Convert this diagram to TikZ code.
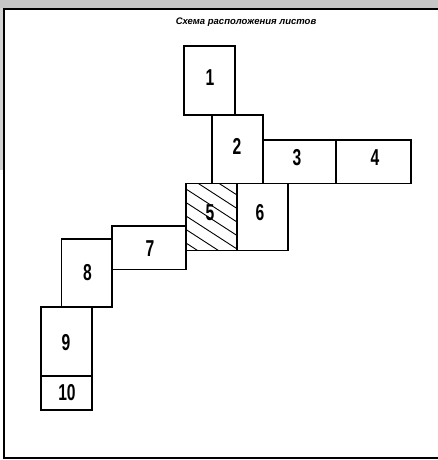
\documentclass[tikz,border=0pt]{standalone}
\usepackage{fontspec}
\setmainfont{Liberation Sans}
\newfontfamily\titlefont{Liberation Sans}
\begin{document}
\begin{tikzpicture}[x=1pt,y=-1pt,
  sheet/.style={draw=black,line width=1.3pt},
  num/.style={font=\bfseries\fontsize{23}{23}\selectfont,xscale=0.68,inner sep=0pt},
  hatchline/.style={line width=0.9pt}]
\useasboundingbox (0,0) rectangle (438,460);
% scan noise
\fill[gray!45] (0,0) rectangle (438,8);
\fill[gray!35] (0,8) rectangle (3,170);
% frame
\draw[line width=2pt] (4,459) -- (4,9) -- (438,9);
\draw[line width=1.5pt] (4,458) -- (438,458);
% title
\node (title) at (246,22) {\titlefont\bfseries\itshape\fontsize{9.5}{10}\selectfont Схема расположения листов};
% hatch of sheet 5
\begin{scope}
\clip (186,183.5) rectangle (237,250.5);
\foreach \k in {-3,...,6}
  \draw[hatchline] (186,{189+13.5*\k}) -- (237,{189+13.5*\k+33});
\end{scope}
% sheets
\draw[sheet] (184,46) rectangle (235,115) node[num] (n1) at (210,78) {1};
\draw[sheet] (212,115) rectangle (263,183.5) node[num] (n2) at (237,146) {2};
\draw[sheet] (263,140) rectangle (336,183.5) node[num] (n3) at (297,158) {3};
\draw[sheet] (336,140) rectangle (411,183.5) node[num] (n4) at (375,158) {4};
\draw[sheet] (186,183.5) rectangle (237,250.5) node[num] (n5) at (210,213) {5};
\draw[sheet] (237,183.5) rectangle (288,250.5) node[num] (n6) at (260,213) {6};
\draw[sheet] (112,226) rectangle (186,269.5) node[num] (n7) at (150,249) {7};
\draw[sheet] (61.5,239) rectangle (112,307) node[num] (n8) at (87.5,273) {8};
\draw[sheet] (41,307) rectangle (92,376) node[num] (n9) at (66,343) {9};
\draw[sheet] (41,376) rectangle (92,410) node[num] (n10) at (67,393) {10};
\end{tikzpicture}
\end{document}
